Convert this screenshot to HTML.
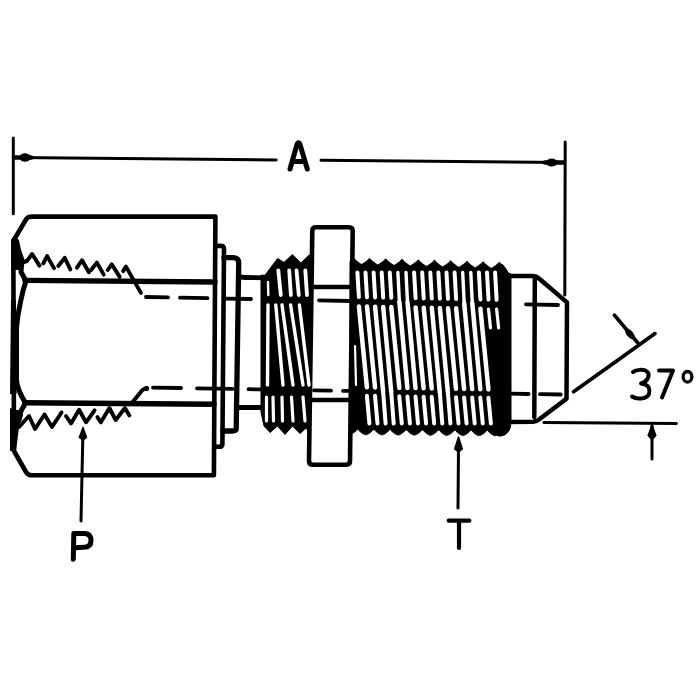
<!DOCTYPE html>
<html><head><meta charset="utf-8"><style>
html,body{margin:0;padding:0;background:#fff;}
svg{display:block;}
</style></head><body>
<svg width="700" height="700" viewBox="0 0 700 700">
<rect width="700" height="700" fill="#fff"/>
<path d="M13.3,138 L13.3,213.8" stroke="#000" fill="none" stroke-linecap="round" stroke-linejoin="round" stroke-width="3"/>
<path d="M565.2,142 L564.8,295" stroke="#000" fill="none" stroke-linecap="round" stroke-linejoin="round" stroke-width="3"/>
<path d="M14,157.4 L276.2,159.9" stroke="#000" fill="none" stroke-linecap="round" stroke-linejoin="round" stroke-width="3"/>
<path d="M321,160.3 L564,162.6" stroke="#000" fill="none" stroke-linecap="round" stroke-linejoin="round" stroke-width="3"/>
<ellipse cx="25" cy="157.5" rx="5.5" ry="4.2" fill="#000"/>
<ellipse cx="551.7" cy="162.5" rx="5.5" ry="4" fill="#000"/>
<path d="M15,157.4 L31,157.6" stroke="#000" fill="none" stroke-linecap="round" stroke-linejoin="round" stroke-width="4.5"/>
<path d="M545,162.4 L563,162.6" stroke="#000" fill="none" stroke-linecap="round" stroke-linejoin="round" stroke-width="4.5"/>
<path d="M290,169 L297,144.5 Q298.5,141 300,144.5 L307.3,169 M293,161.5 L304.3,161.5" stroke="#000" fill="none" stroke-linecap="round" stroke-linejoin="round" stroke-width="5"/>
<path d="M26.3,219 Q28,216.6 32,216.6 L215.4,216.6 L213.9,475.3 L32,475.3 Q28,475.3 26,472 L14,451 L13.3,241 Z" stroke="#000" fill="none" stroke-linecap="round" stroke-linejoin="round" stroke-width="4.6"/>
<path d="M25,280.4 L215,282" stroke="#000" fill="none" stroke-linecap="round" stroke-linejoin="round" stroke-width="5.3"/>
<path d="M25,402.7 L214,404.2" stroke="#000" fill="none" stroke-linecap="round" stroke-linejoin="round" stroke-width="5.5"/>
<path d="M26,281 L23.2,290 L20.5,302 L18,315 L16.5,328 L16.5,380 C17,388 20.5,395 25.5,403" stroke="#000" fill="none" stroke-linecap="round" stroke-linejoin="round" stroke-width="5"/>
<path d="M26,281 L21,272 L21.5,265" stroke="#000" fill="none" stroke-linecap="round" stroke-linejoin="round" stroke-width="5"/>
<path d="M25.5,403 L21,411 L19,420" stroke="#000" fill="none" stroke-linecap="round" stroke-linejoin="round" stroke-width="5"/>
<path d="M11,240 L14,236 L19,240 L21,250 L25,261 L23.5,267 L19.5,270 L15.4,270 L11,272 Z" fill="#000"/>
<path d="M10,408 L15.4,410 L20,410 L23,415 L19.3,425 L17.4,440 L16,451 L10,451 Z" fill="#000"/>
<path d="M11,300 L16,300 L16.5,394 L10,394 Z" fill="#000"/>
<path d="M27,260.9 L32.1,254 L39.4,265.6" stroke="#000" fill="none" stroke-linecap="round" stroke-linejoin="round" stroke-width="3.9"/>
<path d="M43.3,263.4 L47.1,256.1 L54,268.1" stroke="#000" fill="none" stroke-linecap="round" stroke-linejoin="round" stroke-width="3.9"/>
<path d="M58.3,266 L64.7,257.9 L70.3,269.4" stroke="#000" fill="none" stroke-linecap="round" stroke-linejoin="round" stroke-width="3.9"/>
<path d="M76.9,267.7 L82,260.3 L88.9,272.3" stroke="#000" fill="none" stroke-linecap="round" stroke-linejoin="round" stroke-width="3.9"/>
<path d="M91.1,270 L96.9,262.6 L103.7,274.6" stroke="#000" fill="none" stroke-linecap="round" stroke-linejoin="round" stroke-width="3.9"/>
<path d="M107.7,270 L111.7,264.3 L119.7,276.9" stroke="#000" fill="none" stroke-linecap="round" stroke-linejoin="round" stroke-width="3.9"/>
<path d="M123.1,271.1 L126,266.6 L140.9,292.9" stroke="#000" fill="none" stroke-linecap="round" stroke-linejoin="round" stroke-width="3.9"/>
<path d="M22,263 L27,260.9" stroke="#000" fill="none" stroke-linecap="round" stroke-linejoin="round" stroke-width="3.9"/>
<path d="M19,427 L29,416 L35,429 L44.5,414.5 L52,427 L61.5,412.5" stroke="#000" fill="none" stroke-linecap="round" stroke-linejoin="round" stroke-width="3.9"/>
<path d="M66,416 L71,423.5 L79.1,409.7 L86,422.3 L94.6,410.3" stroke="#000" fill="none" stroke-linecap="round" stroke-linejoin="round" stroke-width="3.9"/>
<path d="M97.4,417.1 L100.9,422.3 L109.4,408 L115.7,420 L124.9,408 L129.4,415.4" stroke="#000" fill="none" stroke-linecap="round" stroke-linejoin="round" stroke-width="3.9"/>
<path d="M131,404 L140,393 Q143,388.5 147,388.3" stroke="#000" fill="none" stroke-linecap="round" stroke-linejoin="round" stroke-width="4"/>
<circle cx="146.5" cy="388.5" r="2.6" fill="#000"/>
<path d="M146,297.0 L168,297.4" stroke="#000" fill="none" stroke-linecap="round" stroke-linejoin="round" stroke-width="3.8"/>
<path d="M180,297.7 L207.5,298.2" stroke="#000" fill="none" stroke-linecap="round" stroke-linejoin="round" stroke-width="3.8"/>
<path d="M226,298.6 L251,299.0" stroke="#000" fill="none" stroke-linecap="round" stroke-linejoin="round" stroke-width="3.8"/>
<path d="M319,300.4 L350,301.0" stroke="#000" fill="none" stroke-linecap="round" stroke-linejoin="round" stroke-width="3.8"/>
<path d="M526,304.4 L558,305.0" stroke="#000" fill="none" stroke-linecap="round" stroke-linejoin="round" stroke-width="3.8"/>
<path d="M153,387.6 L181,388.0" stroke="#000" fill="none" stroke-linecap="round" stroke-linejoin="round" stroke-width="3.8"/>
<path d="M197,388.3 L232.4,388.9" stroke="#000" fill="none" stroke-linecap="round" stroke-linejoin="round" stroke-width="3.8"/>
<path d="M248.5,389.2 L262,389.4" stroke="#000" fill="none" stroke-linecap="round" stroke-linejoin="round" stroke-width="3.8"/>
<path d="M314,390.3 L331,390.6" stroke="#000" fill="none" stroke-linecap="round" stroke-linejoin="round" stroke-width="3.8"/>
<path d="M343,390.8 L350,390.9" stroke="#000" fill="none" stroke-linecap="round" stroke-linejoin="round" stroke-width="3.8"/>
<path d="M509,393.6 L528.6,394.0" stroke="#000" fill="none" stroke-linecap="round" stroke-linejoin="round" stroke-width="3.8"/>
<path d="M540,394.2 L560.7,394.5" stroke="#000" fill="none" stroke-linecap="round" stroke-linejoin="round" stroke-width="3.8"/>
<path d="M215.4,246 L221,245.8 Q224,246 224,249 L222.4,444.5 Q222,446.8 219,446.8 L214.5,446.8" stroke="#000" fill="none" stroke-linecap="round" stroke-linejoin="round" stroke-width="4.6"/>
<path d="M224,257.7 L233.5,257.7 Q238.7,258 238.7,263 L236.2,429 Q236,431 232,431 L223,431" stroke="#000" fill="none" stroke-linecap="round" stroke-linejoin="round" stroke-width="5.3"/>
<path d="M238.7,276 Q241,277.5 245,277.5 L265,277.8" stroke="#000" fill="none" stroke-linecap="round" stroke-linejoin="round" stroke-width="4.8"/>
<path d="M238.5,407.6 L263,407.6" stroke="#000" fill="none" stroke-linecap="round" stroke-linejoin="round" stroke-width="5"/>
<path d="M316,227.3 L349,227.3 Q352.7,227.3 352.7,231 L350,461 Q350,464.7 346,464.7 L313,464.7 Q309,464.7 309,461 L312.3,231 Q312.3,227.3 316,227.3 Z" stroke="#000" fill="none" stroke-linecap="round" stroke-linejoin="round" stroke-width="4.6"/>
<path d="M312,287 L352,287" stroke="#000" fill="none" stroke-linecap="round" stroke-linejoin="round" stroke-width="4.5"/>
<path d="M310,400 L350,400" stroke="#000" fill="none" stroke-linecap="round" stroke-linejoin="round" stroke-width="4.5"/>
<path d="M261,275.2 L265,275.2 L277.6,258.5 L284,262.4 L292.4,254.6 L300.8,263 L309,255.3 L312,254 L309.8,434 L306,428 L300,433.5 L292.5,426 L285,434.5 L277.5,426 L270,432.5 L264,426 L261,412 Z" fill="#000" stroke="#000" stroke-width="1" stroke-linejoin="round"/>
<path d="M268,282 L268.3,295" stroke="#fff" fill="none" stroke-linecap="round" stroke-width="2.4"/>
<path d="M278.3,270.5 L280.8,295" stroke="#fff" fill="none" stroke-linecap="round" stroke-width="3.8"/>
<path d="M289.2,270.5 L290.9,295" stroke="#fff" fill="none" stroke-linecap="round" stroke-width="3.8"/>
<path d="M296.5,270.5 L298.8,295" stroke="#fff" fill="none" stroke-linecap="round" stroke-width="3.8"/>
<path d="M305.3,270.5 L307,295" stroke="#fff" fill="none" stroke-linecap="round" stroke-width="3.8"/>
<path d="M268,305 L267.5,385" stroke="#fff" fill="none" stroke-linecap="round" stroke-width="3.4"/>
<path d="M275.8,305 L283,385" stroke="#fff" fill="none" stroke-linecap="round" stroke-width="3.4"/>
<path d="M282,305 L293,385" stroke="#fff" fill="none" stroke-linecap="round" stroke-width="3.4"/>
<path d="M290.6,305 L303,385" stroke="#fff" fill="none" stroke-linecap="round" stroke-width="3.4"/>
<path d="M299.4,305 L309,385" stroke="#fff" fill="none" stroke-linecap="round" stroke-width="3.4"/>
<path d="M266.5,397 L266.5,421" stroke="#fff" fill="none" stroke-linecap="round" stroke-width="3.2"/>
<path d="M273,397 L273.5,421" stroke="#fff" fill="none" stroke-linecap="round" stroke-width="3.2"/>
<path d="M282,397 L282.5,421" stroke="#fff" fill="none" stroke-linecap="round" stroke-width="3.2"/>
<path d="M291.5,397 L293,421" stroke="#fff" fill="none" stroke-linecap="round" stroke-width="3.2"/>
<path d="M303,397 L305,421" stroke="#fff" fill="none" stroke-linecap="round" stroke-width="3.2"/>
<path d="M350.00,262.00 L352.00,259.20 L352.50,258.70 L353.00,258.11 L353.50,257.73 L354.00,258.45 L354.50,259.02 L355.00,259.52 L355.50,259.99 L356.00,260.43 L356.50,260.86 L357.00,261.26 L357.50,261.66 L358.00,262.04 L358.50,262.41 L359.00,262.77 L359.50,263.13 L360.00,263.48 L360.50,263.82 L361.00,264.16 L361.50,264.48 L362.00,264.18 L362.50,263.87 L363.00,263.56 L363.50,263.24 L364.00,262.91 L364.50,262.58 L365.00,262.23 L365.50,261.88 L366.00,261.52 L366.50,261.14 L367.00,260.75 L367.50,260.33 L368.00,259.89 L368.50,259.41 L369.00,258.87 L369.50,258.18 L370.00,258.65 L370.50,259.26 L371.00,259.79 L371.50,260.27 L372.00,260.73 L372.50,261.16 L373.00,261.57 L373.50,261.97 L374.00,262.36 L374.50,262.74 L375.00,263.10 L375.50,263.46 L376.00,263.81 L376.50,264.16 L377.00,264.50 L377.50,264.83 L378.00,264.80 L378.50,264.49 L379.00,264.18 L379.50,263.87 L380.00,263.54 L380.50,263.21 L381.00,262.87 L381.50,262.52 L382.00,262.17 L382.50,261.80 L383.00,261.41 L383.50,261.00 L384.00,260.58 L384.50,260.12 L385.00,259.61 L385.50,259.01 L386.00,258.81 L386.50,259.49 L387.00,260.05 L387.50,260.55 L388.00,261.02 L388.50,261.46 L389.00,261.88 L389.50,262.28 L390.00,262.68 L390.50,263.06 L391.00,263.43 L391.50,263.79 L392.00,264.15 L392.50,264.49 L393.00,264.84 L393.50,265.17 L394.00,265.42 L394.50,265.11 L395.00,264.81 L395.50,264.49 L396.00,264.17 L396.50,263.84 L397.00,263.51 L397.50,263.17 L398.00,262.81 L398.50,262.45 L399.00,262.07 L399.50,261.67 L400.00,261.26 L400.50,260.81 L401.00,260.33 L401.50,259.78 L402.00,259.03 L402.50,259.71 L403.00,260.30 L403.50,260.82 L404.00,261.30 L404.50,261.75 L405.00,262.18 L405.50,262.59 L406.00,262.99 L406.50,263.38 L407.00,263.75 L407.50,264.12 L408.00,264.48 L408.50,264.83 L409.00,265.17 L409.50,265.51 L410.00,265.85 L410.50,265.73 L411.00,265.43 L411.50,265.12 L412.00,264.80 L412.50,264.48 L413.00,264.14 L413.50,263.80 L414.00,263.46 L414.50,263.10 L415.00,262.72 L415.50,262.33 L416.00,261.93 L416.50,261.50 L417.00,261.03 L417.50,260.52 L418.00,259.90 L418.50,259.88 L419.00,260.54 L419.50,261.09 L420.00,261.58 L420.50,262.05 L421.00,262.48 L421.50,262.90 L422.00,263.31 L422.50,263.70 L423.00,264.08 L423.50,264.45 L424.00,264.81 L424.50,265.16 L425.00,265.51 L425.50,265.85 L426.00,266.19 L426.50,266.35 L427.00,266.05 L427.50,265.74 L428.00,265.43 L428.50,265.11 L429.00,264.78 L429.50,264.44 L430.00,264.10 L430.50,263.74 L431.00,263.38 L431.50,262.99 L432.00,262.60 L432.50,262.18 L433.00,261.73 L433.50,261.24 L434.00,260.68 L434.50,259.95 L435.00,260.76 L435.50,261.34 L436.00,261.86 L436.50,262.33 L437.00,262.78 L437.50,263.21 L438.00,263.62 L438.50,264.01 L439.00,264.40 L439.50,264.77 L440.00,265.14 L440.50,265.49 L441.00,265.84 L441.50,266.19 L442.00,266.53 L442.50,266.86 L443.00,266.67 L443.50,266.36 L444.00,266.05 L444.50,265.73 L445.00,265.41 L445.50,265.08 L446.00,264.74 L446.50,264.39 L447.00,264.02 L447.50,263.65 L448.00,263.26 L448.50,262.85 L449.00,262.42 L449.50,261.95 L450.00,261.42 L450.50,260.78 L451.00,260.94 L451.50,261.58 L452.00,262.12 L452.50,262.61 L453.00,263.07 L453.50,263.51 L454.00,263.92 L454.50,264.33 L455.00,264.72 L455.50,265.09 L456.00,265.46 L456.50,265.82 L457.00,266.18 L457.50,266.52 L458.00,266.86 L458.50,267.20 L459.00,267.29 L459.50,266.99 L460.00,266.68 L460.50,266.36 L461.00,266.04 L461.50,265.71 L462.00,265.37 L462.50,265.03 L463.00,264.67 L463.50,264.30 L464.00,263.92 L464.50,263.52 L465.00,263.10 L465.50,262.65 L466.00,262.15 L466.50,261.57 L467.00,261.06 L467.50,261.81 L468.00,262.38 L468.50,262.89 L469.00,263.36 L469.50,263.81 L470.00,264.23 L470.50,264.64 L471.00,265.03 L471.50,265.41 L472.00,265.79 L472.50,266.15 L473.00,266.51 L473.50,266.86 L474.00,267.20 L474.50,267.54 L475.00,267.87 L475.50,267.61 L476.00,267.30 L476.50,266.99 L477.00,266.67 L477.50,266.34 L478.00,266.01 L478.50,265.67 L479.00,265.32 L479.50,264.95 L480.00,264.58 L480.50,264.19 L481.00,263.77 L481.50,263.34 L482.00,262.86 L482.50,262.33 L483.00,261.65 L483.50,262.00 L484.00,262.62 L484.50,263.16 L485.00,263.64 L485.50,264.10 L486.00,264.53 L486.50,264.95 L487.00,265.35 L487.50,265.73 L488.00,266.11 L488.50,266.48 L489.00,266.84 L489.50,267.19 L490.00,267.54 L490.50,267.88 L491.00,268.21 L491.50,268.23 L492.00,267.92 L492.50,267.61 L493.00,267.30 L493.50,266.97 L494.00,266.64 L494.50,266.31 L495.00,265.96 L495.50,265.60 L496.00,265.23 L496.50,264.85 L497.00,264.44 L497.50,264.02 L498.00,263.56 L498.50,263.06 L499.00,262.47 L499.50,262.15 L500.00,262.85 L500.50,263.42 L501.00,263.92 L501.50,264.39 L503.00,265.00 L506.00,269.00 L508.40,273.00 L511.00,274.00 L511.00,421.00 L510.50,427.00 L508.50,431.50 L505.00,434.80 L500.00,436.20 L497.00,435.31 L496.50,435.50 L496.00,435.64 L495.50,435.73 L495.00,435.72 L494.50,435.60 L494.00,435.44 L493.50,435.24 L493.00,434.99 L492.50,434.72 L492.00,434.41 L491.50,434.08 L491.00,433.72 L490.50,433.33 L490.00,432.91 L489.50,432.48 L489.00,432.02 L488.50,431.53 L488.00,431.03 L487.50,430.51 L487.00,430.40 L486.50,430.92 L486.00,431.42 L485.50,431.90 L485.00,432.35 L484.50,432.79 L484.00,433.20 L483.50,433.58 L483.00,433.94 L482.50,434.27 L482.00,434.58 L481.50,434.85 L481.00,435.09 L480.50,435.30 L480.00,435.46 L479.50,435.58 L479.00,435.61 L478.50,435.53 L478.00,435.38 L477.50,435.19 L477.00,434.97 L476.50,434.70 L476.00,434.41 L475.50,434.09 L475.00,433.73 L474.50,433.36 L474.00,432.95 L473.50,432.52 L473.00,432.07 L472.50,431.60 L472.00,431.11 L471.50,430.59 L471.00,430.05 L470.50,430.58 L470.00,431.09 L469.50,431.58 L469.00,432.04 L468.50,432.48 L468.00,432.90 L467.50,433.30 L467.00,433.67 L466.50,434.01 L466.00,434.33 L465.50,434.62 L465.00,434.87 L464.50,435.09 L464.00,435.27 L463.50,435.41 L463.00,435.48 L462.50,435.44 L462.00,435.32 L461.50,435.14 L461.00,434.93 L460.50,434.68 L460.00,434.40 L459.50,434.09 L459.00,433.75 L458.50,433.38 L458.00,432.99 L457.50,432.57 L457.00,432.13 L456.50,431.66 L456.00,431.18 L455.50,430.67 L455.00,430.14 L454.50,430.24 L454.00,430.76 L453.50,431.25 L453.00,431.73 L452.50,432.18 L452.00,432.61 L451.50,433.01 L451.00,433.40 L450.50,433.75 L450.00,434.08 L449.50,434.37 L449.00,434.64 L448.50,434.88 L448.00,435.07 L447.50,435.23 L447.00,435.33 L446.50,435.34 L446.00,435.24 L445.50,435.09 L445.00,434.89 L444.50,434.66 L444.00,434.39 L443.50,434.09 L443.00,433.76 L442.50,433.40 L442.00,433.02 L441.50,432.61 L441.00,432.18 L440.50,431.72 L440.00,431.24 L439.50,430.74 L439.00,430.22 L438.50,429.90 L438.00,430.43 L437.50,430.93 L437.00,431.41 L436.50,431.87 L436.00,432.31 L435.50,432.73 L435.00,433.12 L434.50,433.48 L434.00,433.82 L433.50,434.13 L433.00,434.41 L432.50,434.66 L432.00,434.87 L431.50,435.04 L431.00,435.17 L430.50,435.23 L430.00,435.16 L429.50,435.03 L429.00,434.85 L428.50,434.63 L428.00,434.37 L427.50,434.08 L427.00,433.76 L426.50,433.42 L426.00,433.04 L425.50,432.65 L425.00,432.22 L424.50,431.78 L424.00,431.31 L423.50,430.82 L423.00,430.31 L422.50,429.77 L422.00,430.09 L421.50,430.60 L421.00,431.09 L420.50,431.56 L420.00,432.01 L419.50,432.43 L419.00,432.83 L418.50,433.21 L418.00,433.56 L417.50,433.88 L417.00,434.17 L416.50,434.43 L416.00,434.66 L415.50,434.85 L415.00,434.99 L414.50,435.09 L414.00,435.07 L413.50,434.96 L413.00,434.79 L412.50,434.59 L412.00,434.35 L411.50,434.07 L411.00,433.76 L410.50,433.43 L410.00,433.07 L409.50,432.68 L409.00,432.27 L408.50,431.83 L408.00,431.37 L407.50,430.89 L407.00,430.38 L406.50,429.86 L406.00,429.75 L405.50,430.27 L405.00,430.77 L404.50,431.25 L404.00,431.70 L403.50,432.14 L403.00,432.55 L402.50,432.93 L402.00,433.29 L401.50,433.62 L401.00,433.93 L400.50,434.20 L400.00,434.44 L399.50,434.65 L399.00,434.81 L398.50,434.93 L398.00,434.96 L397.50,434.88 L397.00,434.73 L396.50,434.55 L396.00,434.32 L395.50,434.06 L395.00,433.76 L394.50,433.44 L394.00,433.09 L393.50,432.71 L393.00,432.30 L392.50,431.88 L392.00,431.43 L391.50,430.95 L391.00,430.46 L390.50,429.94 L390.00,429.40 L389.50,429.93 L389.00,430.44 L388.50,430.93 L388.00,431.39 L387.50,431.84 L387.00,432.26 L386.50,432.65 L386.00,433.02 L385.50,433.37 L385.00,433.68 L384.50,433.97 L384.00,434.22 L383.50,434.44 L383.00,434.62 L382.50,434.76 L382.00,434.84 L381.50,434.79 L381.00,434.67 L380.50,434.50 L380.00,434.28 L379.50,434.03 L379.00,433.75 L378.50,433.44 L378.00,433.10 L377.50,432.73 L377.00,432.34 L376.50,431.92 L376.00,431.48 L375.50,431.02 L375.00,430.53 L374.50,430.02 L374.00,429.49 L373.50,429.59 L373.00,430.11 L372.50,430.61 L372.00,431.08 L371.50,431.53 L371.00,431.96 L370.50,432.37 L370.00,432.75 L369.50,433.10 L369.00,433.43 L368.50,433.73 L368.00,433.99 L367.50,434.23 L367.00,434.43 L366.50,434.58 L366.00,434.68 L365.50,434.69 L365.00,434.59 L364.50,434.44 L364.00,434.24 L363.50,434.01 L363.00,433.74 L362.50,433.44 L362.00,433.11 L361.50,432.75 L361.00,432.37 L360.50,431.96 L360.00,431.53 L359.50,431.07 L359.00,430.60 L358.50,430.10 L358.00,429.58 L357.50,429.25 L357.00,429.78 L356.50,430.28 L356.00,430.76 L355.50,431.23 L355.00,431.66 L354.50,432.08 L354.00,432.47 L353.50,432.83 L353.00,433.17 L352.50,433.48 L352.00,433.76 L350.00,437.00 Z" fill="#000" stroke="#000" stroke-width="1.0" stroke-linejoin="round"/>
<path d="M357.4,272.5 L358.9,297.1" stroke="#fff" fill="none" stroke-linecap="round" stroke-width="4.0"/>
<path d="M358.9,306.4 L366.9,387.3" stroke="#fff" fill="none" stroke-linecap="round" stroke-width="4.5"/>
<path d="M366.9,395.7 L369.4,423.5" stroke="#fff" fill="none" stroke-linecap="round" stroke-width="4.0"/>
<path d="M365.5,272.5 L367.0,297.3" stroke="#fff" fill="none" stroke-linecap="round" stroke-width="4.0"/>
<path d="M367.0,306.6 L375.0,387.4" stroke="#fff" fill="none" stroke-linecap="round" stroke-width="4.5"/>
<path d="M375.0,395.8 L377.5,423.5" stroke="#fff" fill="none" stroke-linecap="round" stroke-width="4.0"/>
<path d="M373.6,272.5 L375.1,297.4" stroke="#fff" fill="none" stroke-linecap="round" stroke-width="4.0"/>
<path d="M375.1,306.7 L383.1,391.5" stroke="#fff" fill="none" stroke-linecap="round" stroke-width="4.5"/>
<path d="M383.1,391.5 L385.6,423.5" stroke="#fff" fill="none" stroke-linecap="round" stroke-width="4.0"/>
<path d="M381.7,272.5 L383.2,297.6" stroke="#fff" fill="none" stroke-linecap="round" stroke-width="4.0"/>
<path d="M383.2,306.9 L391.2,391.6" stroke="#fff" fill="none" stroke-linecap="round" stroke-width="4.5"/>
<path d="M391.2,391.6 L393.7,423.5" stroke="#fff" fill="none" stroke-linecap="round" stroke-width="4.0"/>
<path d="M389.8,272.5 L391.3,297.7" stroke="#fff" fill="none" stroke-linecap="round" stroke-width="4.0"/>
<path d="M391.3,307.1 L399.3,387.9" stroke="#fff" fill="none" stroke-linecap="round" stroke-width="4.5"/>
<path d="M399.3,396.3 L401.8,423.5" stroke="#fff" fill="none" stroke-linecap="round" stroke-width="4.0"/>
<path d="M397.9,272.5 L399.4,301.9" stroke="#fff" fill="none" stroke-linecap="round" stroke-width="3.4"/>
<path d="M399.4,301.9 L407.4,388.0" stroke="#fff" fill="none" stroke-linecap="round" stroke-width="4.5"/>
<path d="M407.4,396.4 L409.9,423.5" stroke="#fff" fill="none" stroke-linecap="round" stroke-width="4.0"/>
<path d="M406.0,272.5 L407.5,302.1" stroke="#fff" fill="none" stroke-linecap="round" stroke-width="3.4"/>
<path d="M407.5,302.1 L415.5,388.1" stroke="#fff" fill="none" stroke-linecap="round" stroke-width="4.5"/>
<path d="M415.5,396.5 L418.0,423.5" stroke="#fff" fill="none" stroke-linecap="round" stroke-width="4.0"/>
<path d="M414.1,272.5 L415.6,298.2" stroke="#fff" fill="none" stroke-linecap="round" stroke-width="4.0"/>
<path d="M415.6,307.5 L423.6,388.3" stroke="#fff" fill="none" stroke-linecap="round" stroke-width="4.5"/>
<path d="M423.6,396.7 L426.1,423.5" stroke="#fff" fill="none" stroke-linecap="round" stroke-width="4.0"/>
<path d="M422.2,272.5 L423.7,298.4" stroke="#fff" fill="none" stroke-linecap="round" stroke-width="4.0"/>
<path d="M423.7,307.7 L431.7,388.4" stroke="#fff" fill="none" stroke-linecap="round" stroke-width="4.5"/>
<path d="M431.7,396.8 L434.2,423.5" stroke="#fff" fill="none" stroke-linecap="round" stroke-width="4.0"/>
<path d="M430.3,272.5 L431.8,298.5" stroke="#fff" fill="none" stroke-linecap="round" stroke-width="4.0"/>
<path d="M431.8,307.8 L439.8,392.4" stroke="#fff" fill="none" stroke-linecap="round" stroke-width="4.5"/>
<path d="M439.8,392.4 L442.3,423.5" stroke="#fff" fill="none" stroke-linecap="round" stroke-width="4.0"/>
<path d="M438.4,272.5 L439.9,298.7" stroke="#fff" fill="none" stroke-linecap="round" stroke-width="4.0"/>
<path d="M439.9,308.0 L447.9,392.6" stroke="#fff" fill="none" stroke-linecap="round" stroke-width="4.5"/>
<path d="M447.9,392.6 L450.4,423.5" stroke="#fff" fill="none" stroke-linecap="round" stroke-width="4.0"/>
<path d="M446.5,272.5 L448.0,298.8" stroke="#fff" fill="none" stroke-linecap="round" stroke-width="4.0"/>
<path d="M448.0,308.2 L456.0,388.8" stroke="#fff" fill="none" stroke-linecap="round" stroke-width="4.5"/>
<path d="M456.0,397.2 L458.5,423.5" stroke="#fff" fill="none" stroke-linecap="round" stroke-width="4.0"/>
<path d="M454.6,272.5 L456.1,299.0" stroke="#fff" fill="none" stroke-linecap="round" stroke-width="4.0"/>
<path d="M456.1,308.3 L464.1,389.0" stroke="#fff" fill="none" stroke-linecap="round" stroke-width="4.5"/>
<path d="M464.1,397.4 L466.6,423.5" stroke="#fff" fill="none" stroke-linecap="round" stroke-width="4.0"/>
<path d="M462.7,272.5 L464.2,303.2" stroke="#fff" fill="none" stroke-linecap="round" stroke-width="3.4"/>
<path d="M464.2,303.2 L472.2,389.1" stroke="#fff" fill="none" stroke-linecap="round" stroke-width="4.5"/>
<path d="M472.2,397.5 L474.7,423.5" stroke="#fff" fill="none" stroke-linecap="round" stroke-width="4.0"/>
<path d="M470.8,272.5 L472.3,303.3" stroke="#fff" fill="none" stroke-linecap="round" stroke-width="3.4"/>
<path d="M472.3,303.3 L480.3,389.2" stroke="#fff" fill="none" stroke-linecap="round" stroke-width="4.5"/>
<path d="M480.3,397.6 L482.8,423.5" stroke="#fff" fill="none" stroke-linecap="round" stroke-width="4.0"/>
<path d="M478.9,272.5 L480.4,299.5" stroke="#fff" fill="none" stroke-linecap="round" stroke-width="4.0"/>
<path d="M480.4,308.8 L488.4,389.4" stroke="#fff" fill="none" stroke-linecap="round" stroke-width="4.5"/>
<path d="M488.4,397.8 L490.9,423.5" stroke="#fff" fill="none" stroke-linecap="round" stroke-width="4.0"/>
<path d="M487.0,272.5 L488.5,299.6" stroke="#fff" fill="none" stroke-linecap="round" stroke-width="4.0"/>
<path d="M488.5,309.0 L490.5,328" stroke="#fff" fill="none" stroke-linecap="round" stroke-width="3.2"/>
<path d="M495.1,272.5 L496.6,299.8" stroke="#fff" fill="none" stroke-linecap="round" stroke-width="4.0"/>
<path d="M496.6,309.1 L498.6,328" stroke="#fff" fill="none" stroke-linecap="round" stroke-width="3.2"/>
<path d="M355,346 L356,385" stroke="#fff" fill="none" stroke-linecap="round" stroke-width="2.2"/>
<path d="M509.3,276 L533,276 Q536.3,276 539,278.5 L567,302.4 L566.5,398.8 L539,419.5 Q537,421.5 533,421.8 L508,422" stroke="#000" fill="none" stroke-linecap="round" stroke-linejoin="round" stroke-width="4.5"/>
<path d="M534.8,279 L534.3,417" stroke="#000" fill="none" stroke-linecap="round" stroke-linejoin="round" stroke-width="4.5"/>
<path d="M508.4,276 L508.2,424" stroke="#000" fill="none" stroke-linecap="round" stroke-linejoin="round" stroke-width="5"/>
<path d="M544,422.6 L676.4,423.6" stroke="#000" fill="none" stroke-linecap="round" stroke-linejoin="round" stroke-width="3"/>
<path d="M573.5,391.8 Q610,366 655,333.6" stroke="#000" fill="none" stroke-linecap="round" stroke-linejoin="round" stroke-width="3.7"/>
<path d="M614.3,315 L637.9,343" stroke="#000" fill="none" stroke-linecap="round" stroke-linejoin="round" stroke-width="3.5"/>
<ellipse cx="630" cy="334" rx="6.5" ry="3.3" transform="rotate(50 630 334)" fill="#000"/>
<path d="M633,372 C636,369.5 644,369 647,371.5 C650,374 649,381 641,383.5 C650,384.5 650,390 649,394 C647,399 637,400 632,396.5" stroke="#000" fill="none" stroke-linecap="round" stroke-linejoin="round" stroke-width="4"/>
<path d="M659,370.5 L673,370.5 L662,397.5" stroke="#000" fill="none" stroke-linecap="round" stroke-linejoin="round" stroke-width="4"/>
<ellipse cx="687.5" cy="376.8" rx="4.4" ry="5.3" stroke="#000" fill="none" stroke-linecap="round" stroke-linejoin="round" stroke-width="3.3"/>
<path d="M652,425 L652,459" stroke="#000" fill="none" stroke-linecap="round" stroke-linejoin="round" stroke-width="3"/>
<path d="M652,425 L655.8,435.5 L652,439.5 L648.2,435.5 Z" fill="#000" stroke="#000" stroke-width="1.5" stroke-linejoin="round"/>
<path d="M82.8,438 L81,521" stroke="#000" fill="none" stroke-linecap="round" stroke-linejoin="round" stroke-width="3"/>
<path d="M83,427.5 L86.5,437.5 L83,440 L79.3,437.5 Z" fill="#000" stroke="#000" stroke-width="1.5" stroke-linejoin="round"/>
<path d="M73.3,559.3 L73.8,533.5 L85,533.5 Q91,534 91,540.5 Q91,547.3 84,547.3 L74,547.8" stroke="#000" fill="none" stroke-linecap="round" stroke-linejoin="round" stroke-width="5"/>
<path d="M458.5,446 L458,508" stroke="#000" fill="none" stroke-linecap="round" stroke-linejoin="round" stroke-width="3"/>
<path d="M458.5,437 L462.3,449 L458.5,452 L454.7,449 Z" fill="#000" stroke="#000" stroke-width="1.5" stroke-linejoin="round"/>
<path d="M448.7,520.7 L469.3,520.7 M459,521 L459,548" stroke="#000" fill="none" stroke-linecap="round" stroke-linejoin="round" stroke-width="4.2"/>
</svg>
</body></html>
